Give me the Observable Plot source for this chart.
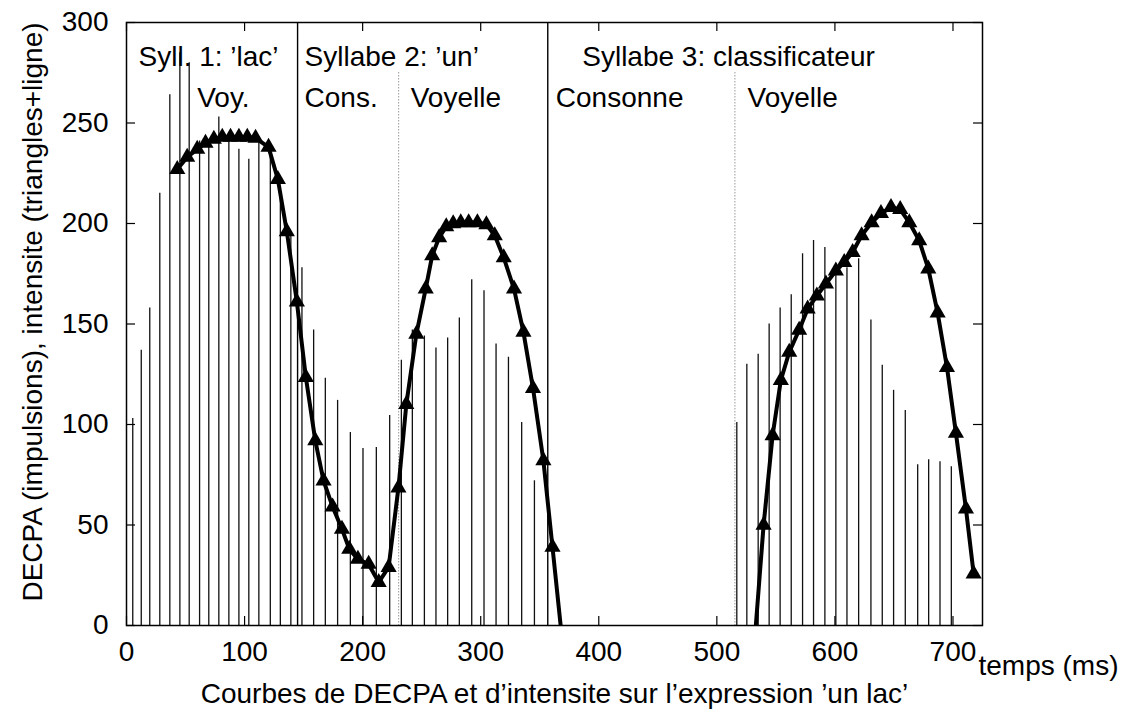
<!DOCTYPE html>
<html><head><meta charset="utf-8">
<script src="https://cdn.jsdelivr.net/npm/d3@7"></script>
<script src="https://cdn.jsdelivr.net/npm/@observablehq/plot@0.6"></script>
<style>body{margin:0;background:#fff}</style>
</head><body><div id="chart"></div>
<script>
// DECPA impulses (time in ms, value)
const impulseTimes = [5.3, 12.5, 19.7, 28.2, 36.7, 45.2, 53.1, 61.9, 69.7, 78.2, 86.7, 95.2, 103.6, 112.1, 121.8, 130.3, 139.2, 148.6, 158.5, 168.4, 178.8, 189.6, 200.3, 211.6, 222.9, 232.8, 242.1, 252.3, 262.1, 272.0, 281.9, 292.4, 302.8, 313.0, 323.5, 334.7, 345.5, 516.9, 525.4, 535.0, 544.3, 553.6, 563.0, 572.6, 581.9, 591.5, 600.8, 610.2, 620.1, 630.5, 640.1, 649.7, 659.6, 670.1, 679.4, 689.0, 698.6];
const impulseValues = [103, 137, 158, 215, 264, 285, 280, 241, 241, 253, 241, 237, 232, 240, 240, 218, 196, 178, 147, 123, 112, 96, 88, 88.5, 104.5, 132, 147, 144, 138, 143, 153, 172, 166.5, 140, 133.5, 101, 72, 101, 130, 135, 150, 158, 164.5, 185, 191.5, 188, 175, 178, 182.5, 152, 129.5, 117, 107, 80, 82.5, 81.5, 79];
// Intensity (triangles + line)
const intensityTimes = [43.0, 51.4, 59.9, 66.9, 74.0, 81.1, 88.1, 95.2, 102.3, 109.3, 120.3, 128.2, 135.8, 144.3, 151.9, 159.9, 166.9, 174.6, 182.5, 188.7, 196.0, 205.1, 213.6, 222.0, 230.3, 237.0, 245.5, 253.4, 258.9, 264.8, 270.8, 276.7, 283.1, 289.8, 297.2, 304.8, 311.9, 319.5, 328.2, 336.2, 344.3, 353.1, 360.8, 368.6, 531.7, 539.6, 547.2, 554.2, 561.3, 569.7, 576.9, 584.7, 592.4, 600.8, 607.9, 615.0, 622.6, 631.1, 639.0, 647.5, 655.3, 663.0, 671.4, 679.1, 687.0, 694.9, 702.5, 711.0, 717.5];
const intensityValues = [227, 233, 237, 240, 242, 243, 243, 243, 243, 242.5, 238, 222, 196, 161, 123.5, 92, 72, 59, 48, 38, 33, 30.5, 21.5, 29, 68.5, 110, 145, 167.5, 184, 193, 198.5, 200, 200.5, 200.5, 200.5, 199.5, 194, 183, 167.5, 146, 118, 82, 39, -5, -10, 50, 94.5, 122, 136, 147, 157.5, 164, 170, 176.5, 180.7, 185.7, 194, 200.5, 205, 208, 207, 200.5, 191.5, 177.5, 155.5, 128.5, 95.7, 58, 25.7];

const xTicks = [0, 100, 200, 300, 400, 500, 600, 700];
const yTicks = [0, 50, 100, 150, 200, 250, 300];
const syllableBounds = [144.9, 356.8];
const segmentBounds = [230.5, 515.3];
const syllableLabels = ["Syll. 1: ’lac’", "Syllabe 2: ’un’", "Syllabe 3: classificateur"];
const syllableLabelTimes = [10.2, 150.8, 386.0];
const segmentLabels = ["Voy.", "Cons.", "Voyelle", "Consonne", "Voyelle"];
const segmentLabelTimes = [59.9, 150.8, 240.7, 363.6, 526.0];
const xTitle = "Courbes de DECPA et d’intensite sur l’expression ’un lac’";
const yTitle = "DECPA (impulsions), intensite (triangles+ligne)";
const xUnit = "temps (ms)";

const impulses = impulseTimes.map((t, i) => ({t, v: impulseValues[i]}));
const intensity = intensityTimes.map((t, i) => ({t, v: intensityValues[i]}));

const W = 1128, H = 715, mL = 126, mR = 146, mT = 22, mB = 90;
const innerW = W - mL - mR, innerH = H - mT - mB;
const tk = 9;

const chart = Plot.plot({
  width: W, height: H,
  marginLeft: mL, marginRight: mR, marginTop: mT, marginBottom: mB,
  x: {domain: [0, 725], axis: null},
  y: {domain: [0, 300], axis: null},
  style: {fontFamily: "'Liberation Sans', Arial, Helvetica, sans-serif", fontSize: "28px", background: "white", color: "black"},
  marks: [
    Plot.ruleX(impulses, {x: "t", y1: 0, y2: "v", stroke: "#111", strokeWidth: 1.3}),
    Plot.ruleX(syllableBounds, {x: d => d, stroke: "black", strokeWidth: 1.4}),
    Plot.ruleX(segmentBounds, {x: d => d, stroke: "#999", strokeWidth: 1, strokeDasharray: "1.5,1.5", insetTop: 50}),
    Plot.line(intensity, {x: "t", y: "v", stroke: "black", strokeWidth: 4, clip: true}),
    Plot.dot(intensity, {x: "t", y: "v", symbol: "triangle", r: 6, fill: "black", stroke: "none", clip: true}),
    Plot.tickX(xTicks, {x: d => d, insetTop: innerH - tk, stroke: "black", strokeWidth: 1.2}),
    Plot.tickX(xTicks, {x: d => d, insetBottom: innerH - tk, stroke: "black", strokeWidth: 1.2}),
    Plot.tickY(yTicks, {y: d => d, insetRight: innerW - tk, stroke: "black", strokeWidth: 1.2}),
    Plot.tickY(yTicks, {y: d => d, insetLeft: innerW - tk, stroke: "black", strokeWidth: 1.2}),
    Plot.frame({stroke: "black", strokeWidth: 1.5}),
    Plot.text(xTicks, {x: d => d, text: d => String(d), frameAnchor: "bottom", dy: 27, lineAnchor: "middle"}),
    Plot.text(yTicks, {y: d => d, text: d => String(d), frameAnchor: "left", textAnchor: "end", dx: -18, lineAnchor: "middle"}),
    Plot.text([yTitle], {text: d => d, frameAnchor: "left", textAnchor: "middle", dx: -93, dy: -12, rotate: -90, lineAnchor: "middle"}),
    Plot.text([xTitle], {text: d => d, frameAnchor: "bottom", textAnchor: "middle", dy: 69, lineAnchor: "middle"}),
    Plot.text([xUnit], {text: d => d, frameAnchor: "bottom-right", textAnchor: "start", dx: -4, dy: 41, lineAnchor: "middle"}),
    Plot.text(syllableLabels, {x: (d, i) => syllableLabelTimes[i], text: d => d, frameAnchor: "top", textAnchor: "start", lineAnchor: "bottom", dy: 43}),
    Plot.text(segmentLabels, {x: (d, i) => segmentLabelTimes[i], text: d => d, frameAnchor: "top", textAnchor: "start", lineAnchor: "bottom", dy: 84})
  ]
});
document.getElementById("chart").appendChild(chart);
</script>
</body></html>
